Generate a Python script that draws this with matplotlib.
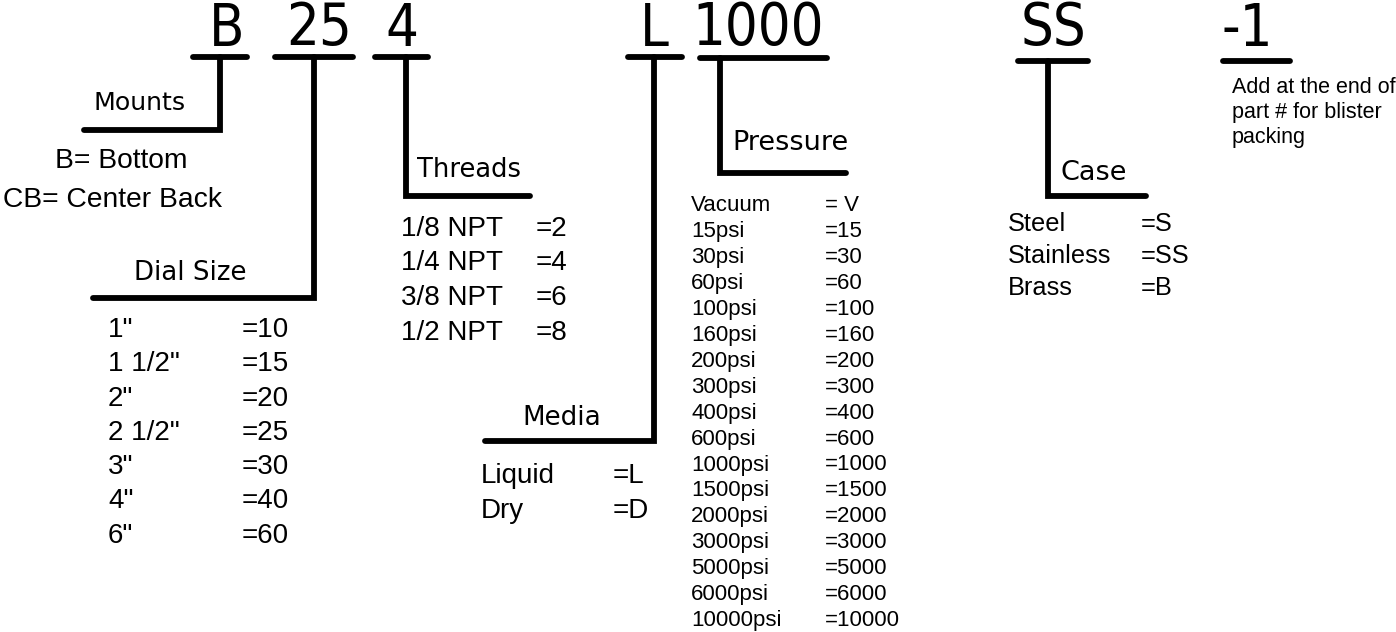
import matplotlib
matplotlib.use("Agg")
import matplotlib.pyplot as plt

# ---------------- data ----------------
code_parts = ["B", "25", "4", "L", "1000", "SS", "-1"]
group_titles = ["Mounts", "Dial Size", "Threads", "Media", "Pressure", "Case"]

mount_options = ["B= Bottom", "CB= Center Back"]
dial_labels = ['1"', '1 1/2"', '2"', '2 1/2"', '3"', '4"', '6"']
dial_codes = ["=10", "=15", "=20", "=25", "=30", "=40", "=60"]
thread_labels = ["1/8 NPT", "1/4 NPT", "3/8 NPT", "1/2 NPT"]
thread_codes = ["=2", "=4", "=6", "=8"]
media_labels = ["Liquid", "Dry"]
media_codes = ["=L", "=D"]
pressure_labels = ["Vacuum", "15psi", "30psi", "60psi", "100psi", "160psi", "200psi",
                   "300psi", "400psi", "600psi", "1000psi", "1500psi", "2000psi",
                   "3000psi", "5000psi", "6000psi", "10000psi"]
pressure_codes = ["= V", "=15", "=30", "=60", "=100", "=160", "=200", "=300", "=400",
                  "=600", "=1000", "=1500", "=2000", "=3000", "=5000", "=6000", "=10000"]
case_labels = ["Steel", "Stainless", "Brass"]
case_codes = ["=S", "=SS", "=B"]
note_lines = ["Add at the end of", "part # for blister", "packing"]

# ---------------- layout (pixel coordinates) ----------------
W, H = 1396, 632
fig = plt.figure(figsize=(W / 100, H / 100), dpi=100)
ax = fig.add_axes([0, 0, 1, 1])
ax.set_xlim(0, W)
ax.set_ylim(H, 0)
ax.axis("off")

LW = 4.2
line_kw = dict(color="black", lw=LW, solid_capstyle="round", solid_joinstyle="miter")
code_font = dict(family="DejaVu Sans", fontstretch="condensed", fontsize=41.5)
body = ["Liberation Sans", "DejaVu Sans"]

# code characters and their underline bars
code_x = [227, 319, 402, 654, 758, 1053, 1247]
bar_span = [(193, 247), (275, 353), (375, 428), (628, 682), (700, 827), (1018, 1088), (1223, 1290)]
bar_y = [57, 57, 57, 57, 58, 61, 61]
for txt, cx, (x0, x1), by in zip(code_parts, code_x, bar_span, bar_y):
    ax.text(cx, 45.5, txt, ha="center", va="baseline", **code_font)
    ax.plot([x0, x1], [by, by], **line_kw)

# connectors: (vertical x, top y, bottom y, horizontal other end x)
connectors = [
    (220, 57, 130, 84),     # Mounts
    (314, 57, 298, 93),     # Dial size
    (406, 57, 196, 530),    # Threads
    (654, 57, 441, 485),    # Media
    (720, 58, 173, 846),    # Pressure
    (1048, 61, 196, 1146),  # Case
]
for vx, y0, y1, hx in connectors:
    ax.plot([vx, vx, hx], [y0, y1, y1], **line_kw)

# group titles
title_pos = [(93, 110), (134, 280), (417, 177), (522, 425), (732, 150), (1061, 180)]
title_size = [18.2, 18.7, 18.5, 18.8, 19.5, 19.5]
for t, (tx, ty), fs in zip(group_titles, title_pos, title_size):
    ax.text(tx, ty, t, ha="left", va="baseline", family="DejaVu Sans", fontsize=fs)

# Mounts options
for i, s in enumerate(mount_options):
    ax.text([55, 3][i], 168 + 39 * i, s, family=body, fontsize=20.3, va="baseline", ha="left")

def table(labels, codes, xl, xc, y0, dy, size):
    for i, (a, b) in enumerate(zip(labels, codes)):
        y = y0 + dy * i
        ax.text(xl, y, a, family=body, fontsize=size, va="baseline", ha="left")
        ax.text(xc, y, b, family=body, fontsize=size, va="baseline", ha="left")

table(dial_labels, dial_codes, 108, 242, 337, 34.3, 20)
table(thread_labels, thread_codes, 401, 536, 236, 34.5, 20)
table(media_labels, media_codes, 481, 613, 483, 34.5, 20)
table(pressure_labels, pressure_codes, 691, 825, 211, 25.95, 16)
table(case_labels, case_codes, 1008, 1141, 231, 32, 18.3)

for i, s in enumerate(note_lines):
    ax.text(1232, 93 + 25 * i, s, family=body, fontsize=15.5, va="baseline", ha="left")

fig.savefig("out.png", dpi=100, facecolor="white")
